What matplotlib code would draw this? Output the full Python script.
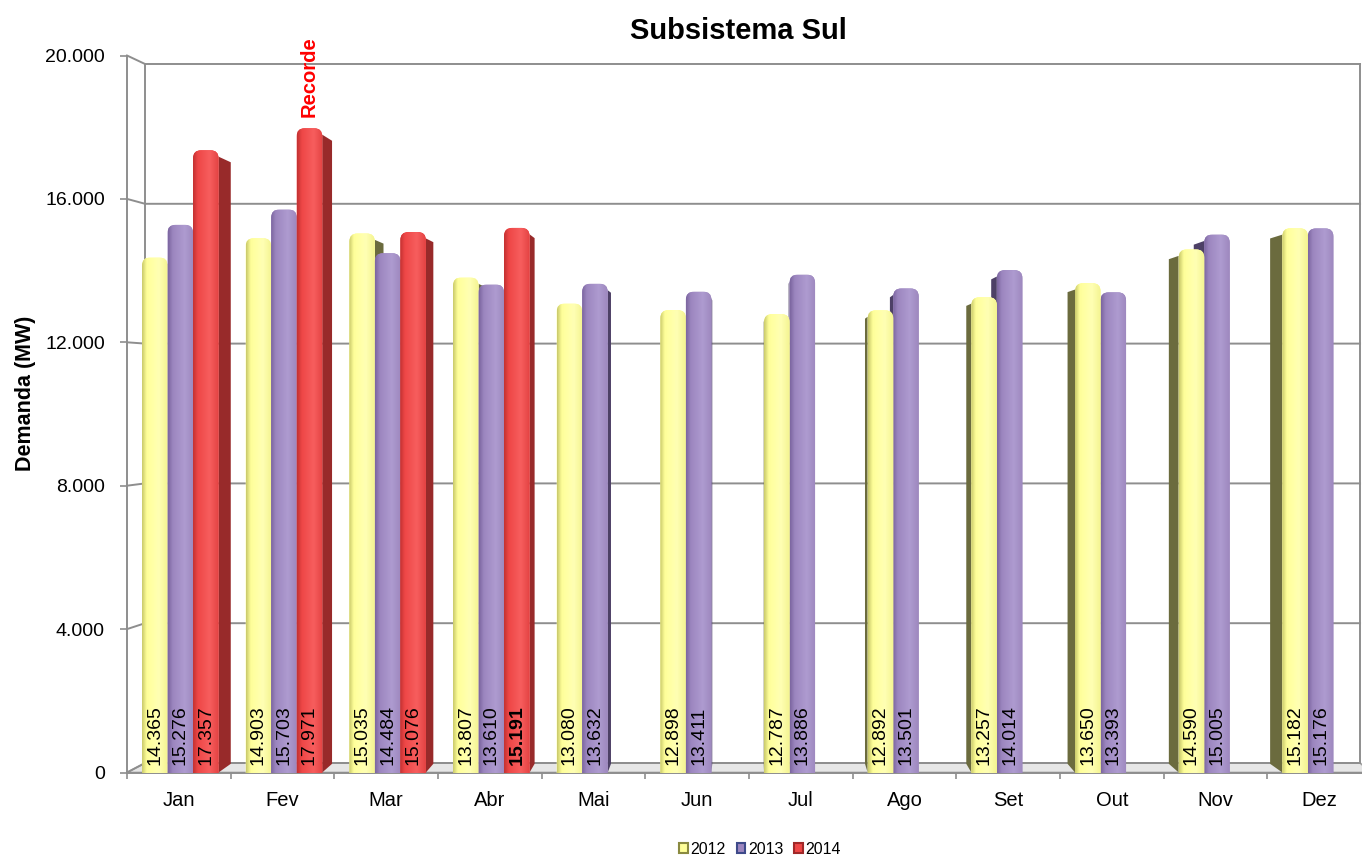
import numpy as np
import matplotlib.pyplot as plt
from matplotlib.patches import FancyBboxPatch, Polygon, Patch
from matplotlib.colors import LinearSegmentedColormap
from matplotlib.ticker import FuncFormatter

plt.rcParams['font.family'] = ['Liberation Sans Narrow', 'Liberation Sans', 'DejaVu Sans']

months = ['Jan', 'Fev', 'Mar', 'Abr', 'Mai', 'Jun', 'Jul', 'Ago', 'Set', 'Out', 'Nov', 'Dez']
dem_2012 = [14365, 14903, 15035, 13807, 13080, 12898, 12787, 12892, 13257, 13650, 14590, 15182]
dem_2013 = [15276, 15703, 14484, 13610, 13632, 13411, 13886, 13501, 14014, 13393, 15005, 15176]
dem_2014 = [17357, 17971, 15076, 15191]
years = ['2012', '2013', '2014']
y_ticks = [0, 4000, 8000, 12000, 16000, 20000]

# front face shading (left -> right), side face colour, legend edge
face_cols = [
    ['#c9c96a', '#ffff99', '#ffffb4', '#f4f491'],
    ['#7c66a0', '#9c86bf', '#ae9bd0', '#9d88be'],
    ['#c23232', '#ee4646', '#f75e5e', '#e44242'],
]
side_cols = ['#6b6b3e', '#4d4066', '#982a2a']
leg_edge = ['#8a8a40', '#3e4a8a', '#a02828']

W, H = 1362, 857
fig = plt.figure(figsize=(W / 100, H / 100), dpi=100)
ax = fig.add_axes([127 / W, 1 - 772.5 / H, 1244 / W, 717 / H])
ax.set_xlim(0, 12)
ax.set_ylim(0, 20000)

px_x = 12 / 1244
px_y = 20000 / 717
rx, ry = 8 * px_x, 8 * px_y
grid_c = '#8e8e8e'


def wall(x, y):
    # projection of the front plane onto the back wall
    return 0.174 + 0.9767 * x, 265 + 0.9749 * y


# floor
fl = [(0, 0), (12, 0), wall(12, 0), wall(0, 0)]
ax.add_patch(Polygon(fl, closed=True, fc='#e6e6e6', ec='#a0a0a0', lw=1.2, zorder=0.5, clip_on=False))

# gridlines on left and back walls
for v in y_ticks:
    bx0, by0 = wall(0, v)
    bx1, by1 = wall(12, v)
    ax.plot([0, bx0, bx1], [v, by0, by1], color=grid_c, lw=1.4, zorder=0.6, clip_on=False)
for xe in (0, 12):
    bx0, by0 = wall(xe, 0)
    bx1, by1 = wall(xe, 20000)
    ax.plot([bx0, bx1], [by0, by1], color=grid_c, lw=1.4, zorder=0.6, clip_on=False)

# bars with a little perspective
series = [dem_2012, dem_2013, dem_2014]
bw, off = 0.246, 0.145
xc, yc, k = 6.01, 10530, 0.023
bars = []
for j, vals in enumerate(series):
    for i, v in enumerate(vals):
        x0 = i + off + j * bw
        bars.append((j, i, x0, v))
bars.sort(key=lambda b: -abs(b[2] + bw / 2 - xc))

grad = np.linspace(0, 1, 64)[None, :]
z = 2
for j, i, x0, v in bars:
    x1 = x0 + bw
    edge = None
    if x1 < xc:
        edge = x1
    elif x0 > xc:
        edge = x0
    if edge is not None:
        xb = edge + k * (xc - edge)
        tb = v + k * (yc - v)
        b0 = k * yc
        side = Polygon([(edge, 0), (edge, v - 0.8 * ry), (xb, tb - 0.8 * ry), (xb, b0)],
                       closed=True, fc=side_cols[j], ec='none', zorder=z)
        ax.add_patch(side)
    front = FancyBboxPatch((x0, -600), bw, v + 600,
                           boxstyle=f'round,pad=0,rounding_size={rx}',
                           mutation_aspect=ry / rx, fc=face_cols[j][1], ec='none', zorder=z + 0.1)
    ax.add_patch(front)
    cmap = LinearSegmentedColormap.from_list(f's{j}', list(zip([0, 0.18, 0.65, 1], face_cols[j])))
    im = ax.imshow(grad, extent=[x0, x1, 0, v], aspect='auto', cmap=cmap,
                   interpolation='bicubic', zorder=z + 0.2)
    im.set_clip_path(front)
    label = f'{v:,}'.replace(',', '.')
    bold = (j == 2 and i == 3)
    ax.text(x0 + bw / 2, 220, label, rotation=90, ha='center', va='bottom',
            fontsize=14, fontweight='bold' if bold else 'normal', zorder=z + 0.3)
    z += 1

ax.text(1 + off + 2 * bw + bw / 2, dem_2014[1] + 320, 'Recorde', rotation=90, color='red',
        fontweight='bold', fontsize=14.5, ha='center', va='bottom', zorder=100)

ax.set_xlim(0, 12)
ax.set_ylim(0, 20000)

# axes styling
for s in ('top', 'right'):
    ax.spines[s].set_visible(False)
for s in ('left', 'bottom'):
    ax.spines[s].set_color(grid_c)
    ax.spines[s].set_linewidth(1.4)
ax.spines['bottom'].set_zorder(0.7)

ax.set_yticks(y_ticks)
ax.yaxis.set_major_formatter(FuncFormatter(lambda v, _: f'{int(v):,}'.replace(',', '.')))
ax.tick_params(axis='y', length=5, width=1.2, color=grid_c, pad=11, labelsize=14)

ax.set_xticks(range(13))
ax.set_xticklabels([])
ax.set_xticks(np.arange(12) + 0.5, minor=True)
ax.set_xticklabels(months, minor=True)
ax.tick_params(axis='x', which='major', length=4, width=1.2, color=grid_c)
ax.tick_params(axis='x', which='minor', length=0, pad=13, labelsize=14.5)

ax.set_ylabel('Demanda (MW)', fontsize=15.5, fontweight='bold')
ax.yaxis.set_label_coords(-0.073, 0.529)

fig.text(738 / W, 1 - 31 / H, 'Subsistema Sul', ha='center', va='center',
         fontsize=21, fontweight='bold')

handles = [Patch(fc=face_cols[j][1], ec=leg_edge[j], lw=1.5) for j in range(3)]
fig.legend(handles, years, loc='center', bbox_to_anchor=(760 / W, 1 - 849 / H), ncol=3,
           frameon=False, fontsize=11.5, handlelength=0.55, handleheight=0.55,
           handletextpad=0.15, columnspacing=0.7)

fig.savefig('out.png', dpi=100, facecolor='white')
